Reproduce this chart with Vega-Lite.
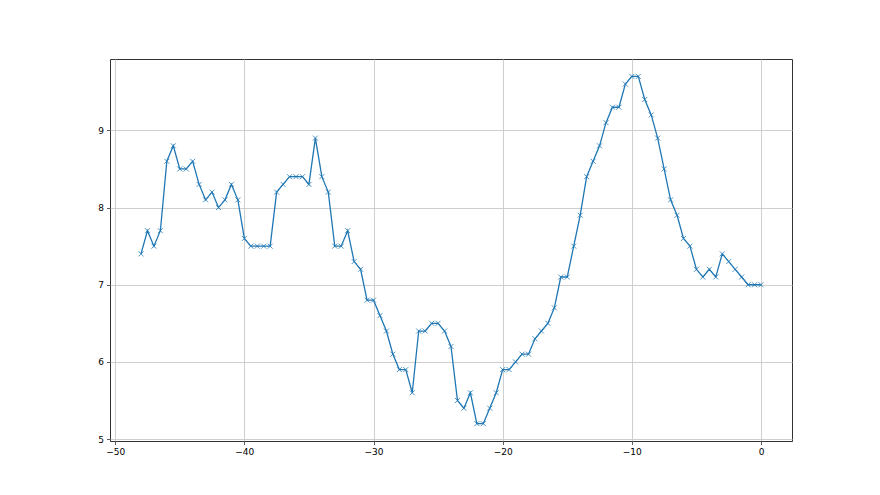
{
  "$schema": "https://vega.github.io/schema/vega-lite/v6.json",
  "width": 682,
  "height": 382,
  "autosize": "none",
  "padding": {"left": 110, "top": 59, "right": 88, "bottom": 54},
  "background": "white",
  "config": {
    "view": {"stroke": "#333333", "strokeWidth": 1},
    "font": "DejaVu Sans",
    "axis": {
      "domain": false,
      "grid": true,
      "gridColor": "#c8c8c8",
      "gridWidth": 0.9,
      "tickColor": "#333333",
      "tickSize": 3.5,
      "tickWidth": 0.8,
      "labelColor": "black",
      "labelFont": "DejaVu Sans",
      "labelFontSize": 9,
      "labelPadding": 3,
      "title": null
    }
  },
  "data": {
    "values": [
      {"x": -48, "y": 7.4}, {"x": -47.5, "y": 7.7}, {"x": -47, "y": 7.5}, {"x": -46.5, "y": 7.7},
      {"x": -46, "y": 8.6}, {"x": -45.5, "y": 8.8}, {"x": -45, "y": 8.5}, {"x": -44.5, "y": 8.5},
      {"x": -44, "y": 8.6}, {"x": -43.5, "y": 8.3}, {"x": -43, "y": 8.1}, {"x": -42.5, "y": 8.2},
      {"x": -42, "y": 8.0}, {"x": -41.5, "y": 8.1}, {"x": -41, "y": 8.3}, {"x": -40.5, "y": 8.1},
      {"x": -40, "y": 7.6}, {"x": -39.5, "y": 7.5}, {"x": -39, "y": 7.5}, {"x": -38.5, "y": 7.5},
      {"x": -38, "y": 7.5}, {"x": -37.5, "y": 8.2}, {"x": -37, "y": 8.3}, {"x": -36.5, "y": 8.4},
      {"x": -36, "y": 8.4}, {"x": -35.5, "y": 8.4}, {"x": -35, "y": 8.3}, {"x": -34.5, "y": 8.9},
      {"x": -34, "y": 8.4}, {"x": -33.5, "y": 8.2}, {"x": -33, "y": 7.5}, {"x": -32.5, "y": 7.5},
      {"x": -32, "y": 7.7}, {"x": -31.5, "y": 7.3}, {"x": -31, "y": 7.2}, {"x": -30.5, "y": 6.8},
      {"x": -30, "y": 6.8}, {"x": -29.5, "y": 6.6}, {"x": -29, "y": 6.4}, {"x": -28.5, "y": 6.1},
      {"x": -28, "y": 5.9}, {"x": -27.5, "y": 5.9}, {"x": -27, "y": 5.6}, {"x": -26.5, "y": 6.4},
      {"x": -26, "y": 6.4}, {"x": -25.5, "y": 6.5}, {"x": -25, "y": 6.5}, {"x": -24.5, "y": 6.4},
      {"x": -24, "y": 6.2}, {"x": -23.5, "y": 5.5}, {"x": -23, "y": 5.4}, {"x": -22.5, "y": 5.6},
      {"x": -22, "y": 5.2}, {"x": -21.5, "y": 5.2}, {"x": -21, "y": 5.4}, {"x": -20.5, "y": 5.6},
      {"x": -20, "y": 5.9}, {"x": -19.5, "y": 5.9}, {"x": -19, "y": 6.0}, {"x": -18.5, "y": 6.1},
      {"x": -18, "y": 6.1}, {"x": -17.5, "y": 6.3}, {"x": -17, "y": 6.4}, {"x": -16.5, "y": 6.5},
      {"x": -16, "y": 6.7}, {"x": -15.5, "y": 7.1}, {"x": -15, "y": 7.1}, {"x": -14.5, "y": 7.5},
      {"x": -14, "y": 7.9}, {"x": -13.5, "y": 8.4}, {"x": -13, "y": 8.6}, {"x": -12.5, "y": 8.8},
      {"x": -12, "y": 9.1}, {"x": -11.5, "y": 9.3}, {"x": -11, "y": 9.3}, {"x": -10.5, "y": 9.6},
      {"x": -10, "y": 9.7}, {"x": -9.5, "y": 9.7}, {"x": -9, "y": 9.4}, {"x": -8.5, "y": 9.2},
      {"x": -8, "y": 8.9}, {"x": -7.5, "y": 8.5}, {"x": -7, "y": 8.1}, {"x": -6.5, "y": 7.9},
      {"x": -6, "y": 7.6}, {"x": -5.5, "y": 7.5}, {"x": -5, "y": 7.2}, {"x": -4.5, "y": 7.1},
      {"x": -4, "y": 7.2}, {"x": -3.5, "y": 7.1}, {"x": -3, "y": 7.4}, {"x": -2.5, "y": 7.3},
      {"x": -2, "y": 7.2}, {"x": -1.5, "y": 7.1}, {"x": -1, "y": 7.0}, {"x": -0.5, "y": 7.0},
      {"x": 0, "y": 7.0}
    ]
  },
  "encoding": {
    "x": {
      "field": "x", "type": "quantitative",
      "scale": {"domain": [-50.4, 2.4], "nice": false, "zero": false},
      "axis": {"values": [-50, -40, -30, -20, -10, 0]}
    },
    "y": {
      "field": "y", "type": "quantitative",
      "scale": {"domain": [4.975, 9.925], "nice": false, "zero": false},
      "axis": {"values": [5, 6, 7, 8, 9]}
    }
  },
  "layer": [
    {"mark": {"type": "line", "color": "#1f77b4", "strokeWidth": 1.3, "clip": true}},
    {"mark": {"type": "point", "shape": "M-1,-1L1,1M-1,1L1,-1", "size": 25, "filled": false, "stroke": "#1f77b4", "strokeWidth": 0.8, "opacity": 1}}
  ]
}
